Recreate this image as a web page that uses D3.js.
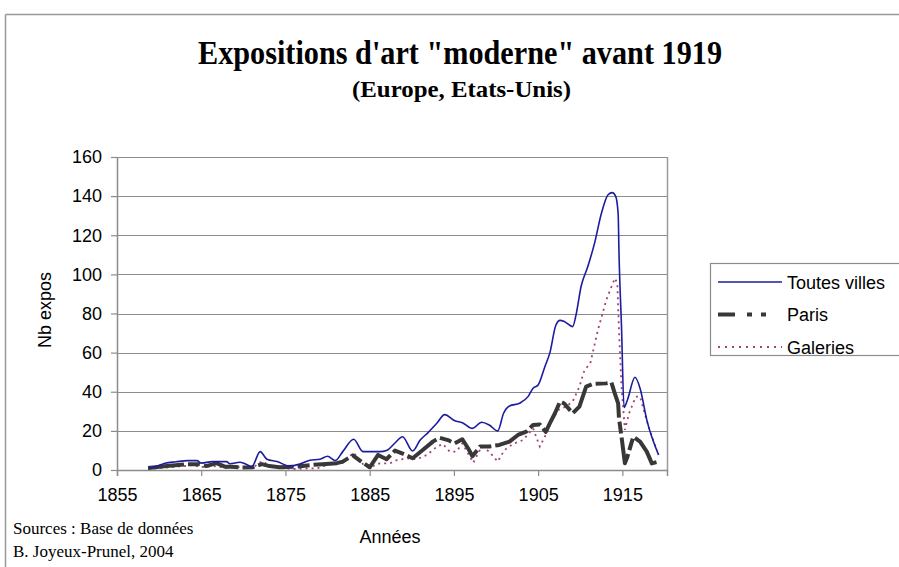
<!DOCTYPE html>
<html>
  <head>
    <title>Expositions d'art moderne avant 1919</title>
    <style>
      body {
        margin: 0;
        background: #fff;
      }
      svg text {
        font-family: 'Liberation Sans', Arial, sans-serif;
        fill: #000;
      }
      .serif {
        font-family: 'Liberation Serif', 'Times New Roman', serif !important;
      }
    </style>
  </head>
  <body>
    <div class="chart"></div>

    <script src="https://d3js.org/d3.v7.min.js"></script>
    <script type="text/javascript">
      // values (year, nb of expos)
      var villesYears = [1858.7, 1859.5, 1860.7, 1862, 1863.4, 1864.5, 1865, 1866.3, 1868, 1868.4, 1869.6, 1870.2, 1871, 1872, 1872.8, 1874, 1875.5, 1876.7, 1877.9, 1879.1, 1880, 1880.9, 1881.8, 1883.1, 1884.2, 1886.2, 1887, 1888, 1888.9, 1890.1, 1891, 1891.9, 1893, 1893.9, 1895.1, 1896, 1897.2, 1898.3, 1899.2, 1900.2, 1900.9, 1901.6, 1902.8, 1903.8, 1904.4, 1905, 1905.8, 1906.4, 1907.1, 1907.6, 1908.1, 1909.1, 1909.5, 1910.1, 1910.9, 1911.7, 1912.5, 1913.3, 1913.8, 1914.2, 1914.5, 1914.6, 1914.9, 1915.2, 1915.6, 1916.5, 1917.1, 1917.9, 1919.3];
      var villesValues = [1, 1.5, 3.5, 4.2, 4.8, 4.8, 3.5, 4.3, 4.3, 3.2, 4, 3.2, 1.7, 9.4, 5.5, 4.3, 2, 3, 5, 5.5, 7, 4.8, 9.4, 15.7, 9.4, 9.4, 10, 13.8, 17, 9.7, 15.3, 19, 24, 28.3, 25.2, 24.2, 21.3, 24.4, 23, 20, 29, 32.7, 34.1, 37.5, 41.8, 43.5, 52.8, 60, 74, 76.5, 75.9, 73.3, 79.3, 93.8, 104, 116, 131, 140.7, 141.8, 140, 131, 111, 73, 32, 35.8, 47.4, 41.8, 25.6, 7.7];

      var parisYears = [1858.7, 1860.9, 1863.3, 1864.8, 1865.6, 1866.8, 1867.8, 1868.7, 1869.8, 1871.1, 1872.2, 1873.1, 1874.3, 1876.3, 1877.9, 1879.4, 1881.1, 1881.8, 1883, 1884, 1885, 1886, 1887, 1888, 1889, 1890.1, 1891.3, 1892.5, 1893.3, 1894.3, 1895.1, 1896, 1896.7, 1897.2, 1898.1, 1899.2, 1900.4, 1901.6, 1902.6, 1903.6, 1904.4, 1905.2, 1905.9, 1906.4, 1907, 1907.6, 1908.1, 1909.1, 1909.9, 1910.7, 1911.5, 1913.1, 1913.7, 1914.1, 1914.5, 1914.6, 1914.9, 1915.3, 1915.6, 1916.3, 1917.1, 1917.9, 1918.5, 1919.3];
      var parisValues = [1, 2, 3, 3, 2, 3.5, 1.7, 1.7, 1.2, 1.4, 3, 2, 1.4, 1.7, 2.5, 3, 3.5, 4.3, 7.5, 4.3, 1.4, 7.7, 5.5, 9.9, 8.2, 6, 10.2, 14.5, 16.5, 15.3, 13.6, 15.7, 11, 7, 12, 12, 12.8, 14.5, 17.9, 19.6, 23, 23.3, 19.5, 23.9, 29, 35, 34, 29, 32.4, 42.6, 44, 44.3, 44.7, 39.2, 34, 26.4, 17, 3.4, 6.8, 17, 14.5, 9.4, 3.4, 4.3];

      var galeriesYears = [1858.7, 1860, 1861.5, 1863, 1864, 1865, 1866.5, 1868, 1869.5, 1871, 1872.2, 1873.2, 1874.5, 1876, 1877.5, 1878.7, 1880.3, 1881.8, 1883.1, 1884.2, 1885, 1886.2, 1887.4, 1888.2, 1889.4, 1890.6, 1891.8, 1893, 1893.7, 1894.5, 1895.3, 1896, 1897.3, 1898.3, 1899.2, 1900.2, 1901, 1902, 1903.2, 1904.4, 1905.2, 1905.9, 1906.7, 1907.4, 1908.3, 1909.1, 1909.9, 1910.5, 1911.2, 1912.1, 1913.1, 1914.1, 1914.4, 1914.6, 1914.9, 1915.3, 1915.8, 1916.6, 1917.1, 1918.1, 1919.1];
      var galeriesValues = [0.5, 1, 1.5, 2, 2.5, 1.5, 2, 1, 1.5, 0.8, 4.5, 2, 1, 0.5, 0.8, 0.8, 3, 3.7, 8.8, 3, 1.4, 3.4, 3.4, 5, 6, 5.5, 7.7, 12, 13.3, 9.4, 9.4, 13.6, 3.7, 12, 9.4, 4.3, 10.2, 13.3, 15.3, 21.3, 12, 17.9, 26, 30.7, 32.4, 35, 42.6, 51, 54.6, 71.6, 87, 98, 95.5, 71.6, 42.6, 20.5, 29, 37.5, 37.5, 22.2, 10];

      var xTicks = [1855, 1865, 1875, 1885, 1895, 1905, 1915];
      var yTicks = [0, 20, 40, 60, 80, 100, 120, 140, 160];
      var seriesNames = ['Toutes villes', 'Paris', 'Galeries'];

      var W = 899, H = 567;
      var margin = {top: 157, right: 232, bottom: 97, left: 117};
      var width = W - margin.left - margin.right,
          height = H - margin.top - margin.bottom;

      var svg = d3.select('.chart').append('svg')
        .attr('width', W)
        .attr('height', H);

      // outer frame (only top and left are visible)
      svg.append('line').attr('x1', 5.5).attr('x2', W).attr('y1', 14.5).attr('y2', 14.5)
        .attr('stroke', '#999').attr('stroke-width', 1.5);
      svg.append('line').attr('x1', 5.5).attr('x2', 5.5).attr('y1', 14.5).attr('y2', H)
        .attr('stroke', '#999').attr('stroke-width', 1.5);

      // titles
      svg.append('text').attr('class', 'serif')
        .attr('x', 198).attr('y', 64)
        .attr('textLength', 524).attr('lengthAdjust', 'spacingAndGlyphs')
        .style('font-size', '34px').style('font-weight', 'bold')
        .text('Expositions d\'art "moderne" avant 1919');
      svg.append('text').attr('class', 'serif')
        .attr('x', 352).attr('y', 97)
        .attr('textLength', 219).attr('lengthAdjust', 'spacingAndGlyphs')
        .style('font-size', '23px').style('font-weight', 'bold')
        .text('(Europe, Etats-Unis)');

      var x = d3.scaleLinear().domain([1855, 1920.3]).range([0, width]);
      var y = d3.scaleLinear().domain([0, 160]).range([height, 0]);

      var g = svg.append('g')
        .attr('transform', 'translate(' + margin.left + ',' + margin.top + ')');

      // grid lines
      g.selectAll('.grid').data(yTicks.slice(1)).enter()
        .append('line')
        .attr('class', 'grid')
        .attr('x1', 0).attr('x2', width)
        .attr('y1', function(d) { return Math.round(y(d)) + 0.5; })
        .attr('y2', function(d) { return Math.round(y(d)) + 0.5; })
        .attr('stroke', '#8c8c8c').attr('stroke-width', 1.2);

      // right border of plot
      g.append('line').attr('x1', width + 0.5).attr('x2', width + 0.5)
        .attr('y1', 0).attr('y2', height)
        .attr('stroke', '#9a9a9a').attr('stroke-width', 1.5);

      var xAxis = d3.axisBottom(x).tickValues(xTicks).tickFormat(d3.format('d'))
        .tickSize(6).tickPadding(12);
      var yAxis = d3.axisLeft(y).tickValues(yTicks).tickSize(6).tickPadding(9);

      var gX = g.append('g')
        .attr('transform', 'translate(0,' + height + ')')
        .call(xAxis);
      var gY = g.append('g').call(yAxis);

      [gX, gY].forEach(function(ax) {
        ax.select('.domain').attr('stroke', '#8c8c8c').attr('stroke-width', 1.5);
        ax.selectAll('.tick line').attr('stroke', '#8c8c8c').attr('stroke-width', 1.2);
        ax.selectAll('.tick text').style('font-size', '18px').attr('fill', '#111');
      });
      gY.select('.domain').attr('d', 'M0.5,0V' + height);

      // axis titles
      svg.append('text')
        .attr('transform', 'translate(51,310) rotate(-90)')
        .attr('text-anchor', 'middle')
        .style('font-size', '18px')
        .text('Nb expos');
      svg.append('text')
        .attr('x', 390).attr('y', 543)
        .attr('text-anchor', 'middle')
        .style('font-size', '18px')
        .text('Années');

      // sources
      svg.append('text').attr('class', 'serif')
        .attr('x', 13).attr('y', 534).style('font-size', '17px')
        .text('Sources : Base de données');
      svg.append('text').attr('class', 'serif')
        .attr('x', 13).attr('y', 557).style('font-size', '17px')
        .text('B. Joyeux-Prunel, 2004');

      var zip = function(xs, vs) {
        return xs.map(function(d, i) { return {year: d, value: vs[i]}; });
      };

      var smooth = d3.line()
        .x(function(d) { return x(d.year); })
        .y(function(d) { return y(d.value); })
        .curve(d3.curveMonotoneX);
      var straight = d3.line()
        .x(function(d) { return x(d.year); })
        .y(function(d) { return y(d.value); });

      g.append('path')
        .datum(zip(galeriesYears, galeriesValues))
        .attr('fill', 'none')
        .attr('stroke', '#a3417a')
        .attr('stroke-width', 1.8)
        .attr('stroke-dasharray', '2,4')
        .attr('d', straight);

      g.append('path')
        .datum(zip(parisYears, parisValues))
        .attr('fill', 'none')
        .attr('stroke', '#383838')
        .attr('stroke-width', 4)
        .attr('stroke-linejoin', 'round')
        .attr('stroke-dasharray', '36,4,12,4')
        .attr('d', straight);

      g.append('path')
        .datum(zip(villesYears, villesValues))
        .attr('fill', 'none')
        .attr('stroke', '#1c1ca0')
        .attr('stroke-width', 1.6)
        .attr('d', smooth);

      // legend
      var legend = svg.append('g');
      legend.append('rect')
        .attr('x', 710.5).attr('y', 263.5)
        .attr('width', 200).attr('height', 92)
        .attr('fill', '#fff').attr('stroke', '#8c8c8c').attr('stroke-width', 1.2);

      var legStyles = [
        {stroke: '#1c1ca0', width: 1.6, dash: null},
        {stroke: '#383838', width: 4, dash: '17,12,5,9,5'},
        {stroke: '#a3417a', width: 1.8, dash: '2,5'}
      ];
      var legItem = legend.selectAll('.leg').data(seriesNames).enter()
        .append('g')
        .attr('class', 'leg')
        .attr('transform', function(d, i) { return 'translate(0,' + (282 + i * 32.5) + ')'; });
      legItem.append('line')
        .attr('x1', 718).attr('x2', 782)
        .attr('y1', 0).attr('y2', 0)
        .attr('stroke', function(d, i) { return legStyles[i].stroke; })
        .attr('stroke-width', function(d, i) { return legStyles[i].width; })
        .attr('stroke-dasharray', function(d, i) { return legStyles[i].dash; });
      legItem.append('text')
        .attr('x', 787).attr('y', 6.5)
        .style('font-size', '18px')
        .text(function(d) { return d; });
    </script>
  </body>
</html>
